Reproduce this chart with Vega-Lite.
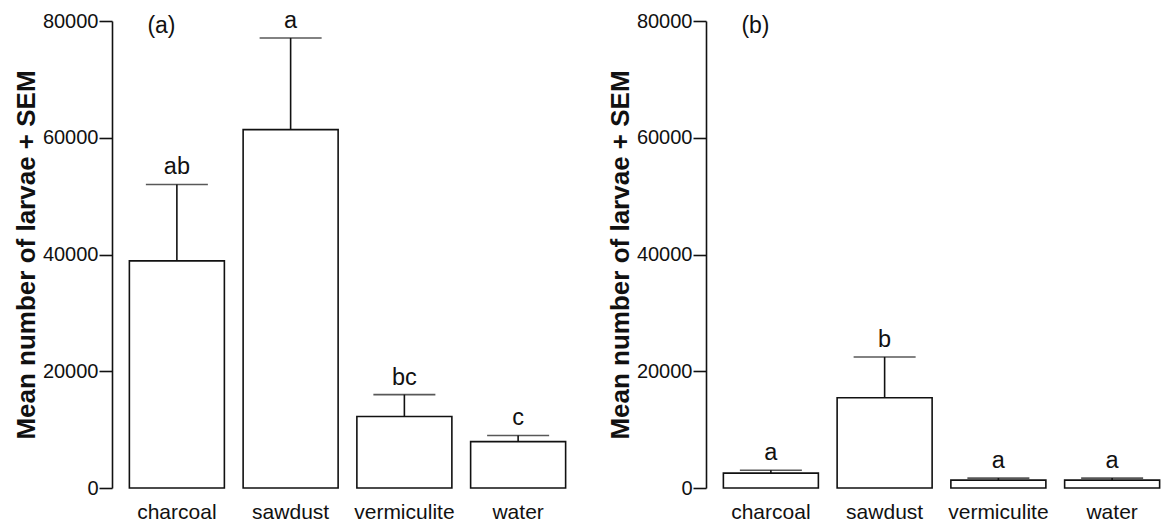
{
  "$schema": "https://vega.github.io/schema/vega-lite/v6.json",
  "background": "white",
  "padding": {"left": 13, "top": 8, "right": 0, "bottom": 0},
  "config": {
    "font": "Liberation Sans",
    "view": {"stroke": null},
    "concat": {"spacing": 32},
    "axis": {"grid": false}
  },
  "datasets": {
    "a": [
      {"substrate": "charcoal", "mean": 38900, "upper": 52000, "letter": "ab"},
      {"substrate": "sawdust", "mean": 61400, "upper": 77100, "letter": "a"},
      {"substrate": "vermiculite", "mean": 12250, "upper": 16000, "letter": "bc"},
      {"substrate": "water", "mean": 7950, "upper": 9000, "letter": "c"}
    ],
    "b": [
      {"substrate": "charcoal", "mean": 2550, "upper": 3050, "letter": "a"},
      {"substrate": "sawdust", "mean": 15450, "upper": 22450, "letter": "b"},
      {"substrate": "vermiculite", "mean": 1350, "upper": 1700, "letter": "a"},
      {"substrate": "water", "mean": 1350, "upper": 1700, "letter": "a"}
    ],
    "panelA": [{"panel": "(a)"}],
    "panelB": [{"panel": "(b)"}]
  },
  "hconcat": [
    {
      "width": 455,
      "height": 467,
      "data": {"name": "a"},
      "encoding": {
        "x": {
          "field": "substrate", "type": "nominal", "sort": null,
          "scale": {"paddingInner": 0.165, "paddingOuter": 0.0825},
          "axis": {"title": null, "domain": false, "ticks": false, "tickSize": 0, "labelAngle": 0, "labelFontSize": 21, "labelColor": "#111", "labelPadding": 13}
        }
      },
      "layer": [
        {
          "mark": {"type": "bar", "fill": "white", "stroke": "#111", "strokeWidth": 1.6, "width": 95},
          "encoding": {
            "y": {
              "field": "mean", "type": "quantitative",
              "scale": {"domain": [0, 80000], "nice": false},
              "axis": {"title": "Mean number of larvae + SEM", "titleFontSize": 26, "titleFontWeight": "bold", "titleColor": "#111", "titlePadding": 3, "values": [0, 20000, 40000, 60000, 80000], "format": "d", "labelFontSize": 20, "labelColor": "#111", "labelPadding": 1, "tickSize": 13, "tickColor": "#111", "tickWidth": 1.6, "domainColor": "#111", "domainWidth": 1.6, "offset": 8}
            }
          }
        },
        {
          "mark": {"type": "rule", "stroke": "#111", "strokeWidth": 1.6},
          "encoding": {"y": {"field": "mean", "type": "quantitative"}, "y2": {"field": "upper"}}
        },
        {
          "mark": {"type": "tick", "orient": "horizontal", "color": "#111", "size": 62, "thickness": 1.6},
          "encoding": {"y": {"field": "upper", "type": "quantitative"}}
        },
        {
          "mark": {"type": "text", "fontSize": 23.5, "color": "#111", "baseline": "alphabetic", "dy": -10},
          "encoding": {"y": {"field": "upper", "type": "quantitative"}, "text": {"field": "letter"}}
        },
        {
          "data": {"name": "panelA"},
          "mark": {"type": "text", "fontSize": 23, "color": "#111", "align": "left", "baseline": "middle", "dx": 18, "dy": 5},
          "encoding": {"x": {"datum": "charcoal", "bandPosition": 0}, "y": {"datum": 80000}, "text": {"field": "panel"}}
        }
      ]
    },
    {
      "width": 455,
      "height": 467,
      "data": {"name": "b"},
      "encoding": {
        "x": {
          "field": "substrate", "type": "nominal", "sort": null,
          "scale": {"paddingInner": 0.165, "paddingOuter": 0.0825},
          "axis": {"title": null, "domain": false, "ticks": false, "tickSize": 0, "labelAngle": 0, "labelFontSize": 21, "labelColor": "#111", "labelPadding": 13}
        }
      },
      "layer": [
        {
          "mark": {"type": "bar", "fill": "white", "stroke": "#111", "strokeWidth": 1.6, "width": 95},
          "encoding": {
            "y": {
              "field": "mean", "type": "quantitative",
              "scale": {"domain": [0, 80000], "nice": false},
              "axis": {"title": "Mean number of larvae + SEM", "titleFontSize": 26, "titleFontWeight": "bold", "titleColor": "#111", "titlePadding": 3, "values": [0, 20000, 40000, 60000, 80000], "format": "d", "labelFontSize": 20, "labelColor": "#111", "labelPadding": 1, "tickSize": 13, "tickColor": "#111", "tickWidth": 1.6, "domainColor": "#111", "domainWidth": 1.6, "offset": 8}
            }
          }
        },
        {
          "mark": {"type": "rule", "stroke": "#111", "strokeWidth": 1.6},
          "encoding": {"y": {"field": "mean", "type": "quantitative"}, "y2": {"field": "upper"}}
        },
        {
          "mark": {"type": "tick", "orient": "horizontal", "color": "#111", "size": 62, "thickness": 1.6},
          "encoding": {"y": {"field": "upper", "type": "quantitative"}}
        },
        {
          "mark": {"type": "text", "fontSize": 23.5, "color": "#111", "baseline": "alphabetic", "dy": -10},
          "encoding": {"y": {"field": "upper", "type": "quantitative"}, "text": {"field": "letter"}}
        },
        {
          "data": {"name": "panelB"},
          "mark": {"type": "text", "fontSize": 23, "color": "#111", "align": "left", "baseline": "middle", "dx": 18, "dy": 5},
          "encoding": {"x": {"datum": "charcoal", "bandPosition": 0}, "y": {"datum": 80000}, "text": {"field": "panel"}}
        }
      ]
    }
  ]
}
